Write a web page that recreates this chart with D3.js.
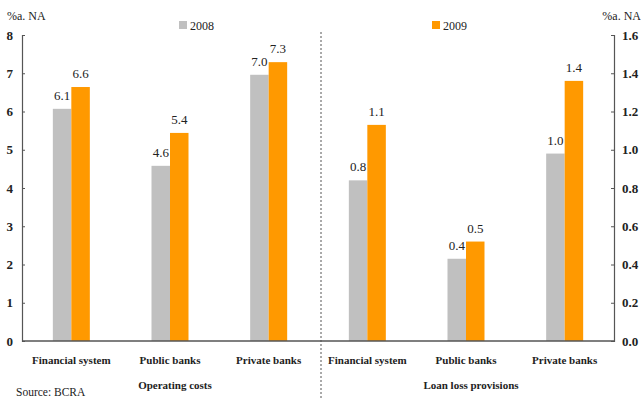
<!DOCTYPE html>
<html>
<head>
<meta charset="utf-8">
<script src="https://cdn.jsdelivr.net/npm/d3@7"></script>
<style>
  body { margin: 0; background: #fff; }
  text { font-family: "Liberation Serif", serif; fill: #222; }
</style>
</head>
<body>
<div id="chart"></div>
<script>
// categories and values
var banks = ["Financial system", "Public banks", "Private banks"];
var groups = ["Operating costs", "Loan loss provisions"];
var years = ["2008", "2009"];
var opCosts2008 = [6.07, 4.58, 6.96];
var opCosts2009 = [6.64, 5.44, 7.29];
var loanProv2008 = [0.84, 0.43, 0.98];
var loanProv2009 = [1.13, 0.52, 1.36];
var leftTicks = [0, 1, 2, 3, 4, 5, 6, 7, 8];
var rightTicks = [0, 0.2, 0.4, 0.6, 0.8, 1.0, 1.2, 1.4, 1.6];

var colors = { "2008": "#c0c0c0", "2009": "#ff9900" };

var width = 641, height = 399;
var plotL = 22, plotR = 614, plotT = 35, plotB = 341;

var svg = d3.select("#chart").append("svg")
  .attr("width", width)
  .attr("height", height);

// one slot per category, both panels side by side
var slots = [];
groups.forEach(function (g) {
  banks.forEach(function (b) { slots.push(g + "|" + b); });
});

var x = d3.scaleBand().domain(slots).range([plotL, plotR]);
var yL = d3.scaleLinear().domain([0, 8]).range([plotB, plotT]);
var yR = d3.scaleLinear().domain([0, 1.6]).range([plotB, plotT]);
var barW = 18.5;

// build rows for drawing
var rows = [];
banks.forEach(function (b, i) {
  rows.push({ slot: groups[0] + "|" + b, year: "2008", v: opCosts2008[i], y: yL });
  rows.push({ slot: groups[0] + "|" + b, year: "2009", v: opCosts2009[i], y: yL });
  rows.push({ slot: groups[1] + "|" + b, year: "2008", v: loanProv2008[i], y: yR });
  rows.push({ slot: groups[1] + "|" + b, year: "2009", v: loanProv2009[i], y: yR });
});

function barX(d) {
  var c = x(d.slot) + x.bandwidth() / 2;
  return d.year === "2008" ? c - barW : c;
}

svg.append("g").selectAll("rect")
  .data(rows)
  .join("rect")
  .attr("x", barX)
  .attr("width", barW)
  .attr("y", function (d) { return d.y(d.v); })
  .attr("height", function (d) { return plotB - d.y(d.v); })
  .attr("fill", function (d) { return colors[d.year]; });

// value labels
svg.append("g").selectAll("text")
  .data(rows)
  .join("text")
  .attr("x", function (d) { return barX(d) + barW / 2; })
  .attr("y", function (d) { return d.y(d.v) - 9; })
  .attr("text-anchor", "middle")
  .style("font-size", "13px")
  .text(function (d) { return d3.format(".1f")(d.v); });

// left axis
var axL = svg.append("g")
  .attr("transform", "translate(" + plotL + ",0)")
  .call(d3.axisRight(yL).tickValues(leftTicks).tickSize(3).tickFormat(d3.format("d")));
axL.selectAll("text")
  .attr("x", -9)
  .attr("text-anchor", "end")
  .style("font-size", "13px")
  .style("font-weight", "bold");

// right axis
var axR = svg.append("g")
  .attr("transform", "translate(" + plotR + ",0)")
  .call(d3.axisLeft(yR).tickValues(rightTicks).tickSize(3).tickFormat(d3.format(".1f")));
axR.selectAll("text")
  .attr("x", 8)
  .attr("text-anchor", "start")
  .style("font-size", "13px")
  .style("font-weight", "bold");

[axL, axR].forEach(function (a) {
  a.select(".domain").attr("stroke", "#555").attr("stroke-width", 1.2);
  a.selectAll(".tick line").attr("stroke", "#555");
});

// baseline
svg.append("line")
  .attr("x1", plotL).attr("x2", plotR)
  .attr("y1", yL(0)).attr("y2", yL(0))
  .attr("stroke", "#555").attr("stroke-width", 1.5);

// dashed separator
var sepX = x(groups[1] + "|" + banks[0]) + 3;
svg.append("line")
  .attr("x1", sepX).attr("x2", sepX)
  .attr("y1", 32).attr("y2", height)
  .attr("stroke", "#555")
  .attr("stroke-dasharray", "2,2");

// category labels
svg.append("g").selectAll("text")
  .data(slots)
  .join("text")
  .attr("x", function (d) { return x(d) + x.bandwidth() / 2; })
  .attr("y", 364)
  .attr("text-anchor", "middle")
  .style("font-size", "11px")
  .style("font-weight", "bold")
  .text(function (d) { return d.split("|")[1]; });

// panel titles
svg.append("g").selectAll("text")
  .data(groups)
  .join("text")
  .attr("x", function (g) {
    var a = x(g + "|" + banks[0]), b = x(g + "|" + banks[2]) + x.bandwidth();
    return (a + b) / 2 + 5;
  })
  .attr("y", 389)
  .attr("text-anchor", "middle")
  .style("font-size", "11px")
  .style("font-weight", "bold")
  .text(function (g) { return g; });

// unit titles
svg.append("text").attr("x", 7).attr("y", 20)
  .style("font-size", "12px").text("%a. NA");
svg.append("text").attr("x", 641).attr("y", 20)
  .attr("text-anchor", "end")
  .style("font-size", "12px").text("%a. NA");

// legend
var legX = [179, 432];
var leg = svg.append("g").selectAll("g")
  .data(years)
  .join("g")
  .attr("transform", function (d, i) { return "translate(" + legX[i] + ",21)"; });
leg.append("rect").attr("width", 8).attr("height", 8)
  .attr("fill", function (d) { return colors[d]; });
leg.append("text").attr("x", 11).attr("y", 8.5)
  .style("font-size", "12px")
  .text(function (d) { return d; });

// source
svg.append("text").attr("x", 16).attr("y", 396)
  .style("font-size", "11.5px").text("Source: BCRA");
</script>
</body>
</html>
